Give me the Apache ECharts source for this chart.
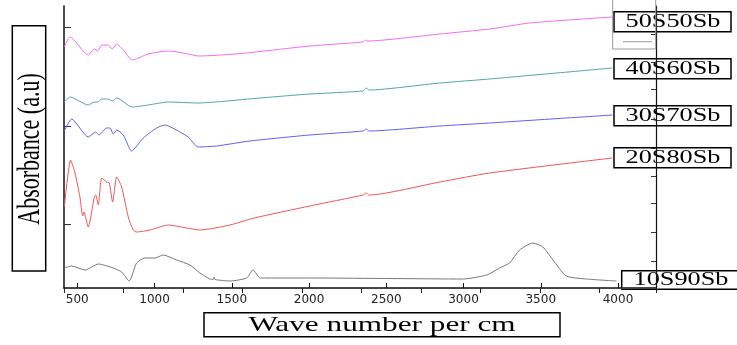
<!DOCTYPE html>
<html>
<head>
<meta charset="utf-8">
<script src="https://cdn.jsdelivr.net/npm/echarts@6/dist/echarts.min.js"></script>
<style>
  html, body { margin: 0; padding: 0; background: #fff; }
  #main { width: 737px; height: 345px; }
</style>
</head>
<body>
<div id="main"></div>
<script>
// wave numbers (cm-1) and absorbance (a.u., offset traces)
const wn50 = [416, 453, 571, 610, 632, 658, 700, 726, 755, 798, 856, 959, 1089, 1218, 1283, 1434, 1596, 2005, 2350, 2365, 2380, 2847, 3169, 3428, 3963];
const ab50 = [2.41, 2.51, 2.33, 2.39, 2.37, 2.43, 2.43, 2.39, 2.44, 2.38, 2.28, 2.34, 2.37, 2.34, 2.32, 2.33, 2.35, 2.42, 2.46, 2.48, 2.47, 2.54, 2.59, 2.65, 2.71];

const wn40 = [416, 453, 571, 610, 632, 658, 700, 726, 755, 856, 959, 1089, 1283, 1434, 1645, 2005, 2350, 2370, 2390, 2847, 3169, 3963];
const ab40 = [1.86, 1.91, 1.83, 1.86, 1.86, 1.89, 1.89, 1.87, 1.90, 1.81, 1.83, 1.86, 1.85, 1.865, 1.895, 1.94, 1.97, 2.00, 1.98, 2.05, 2.09, 2.20];

const wn30 = [416, 464, 571, 619, 640, 690, 712, 733, 755, 798, 852, 927, 1014, 1067, 1164, 1218, 1283, 1402, 1617, 2005, 2350, 2370, 2390, 2847, 3169, 3963];
const ab30 = [1.57, 1.69, 1.51, 1.56, 1.53, 1.60, 1.60, 1.54, 1.58, 1.53, 1.37, 1.50, 1.60, 1.63, 1.56, 1.51, 1.41, 1.42, 1.47, 1.53, 1.57, 1.59, 1.57, 1.62, 1.65, 1.73];

const wn20 = [416, 457, 485, 517, 535, 543, 571, 610, 619, 636, 658, 690, 707, 729, 755, 787, 830, 862, 884, 970, 1089, 1208, 1294, 1488, 1645, 2005, 2350, 2370, 2390, 2847, 3169, 3963];
const ab20 = [0.81, 1.28, 1.15, 0.91, 0.72, 0.76, 0.61, 0.91, 0.93, 0.83, 1.10, 1.06, 1.05, 0.86, 1.11, 1.01, 0.71, 0.58, 0.56, 0.58, 0.63, 0.60, 0.58, 0.63, 0.70, 0.82, 0.93, 0.95, 0.93, 1.06, 1.15, 1.30];

const wn10 = [416, 464, 550, 636, 733, 787, 836, 884, 938, 1003, 1056, 1143, 1229, 1294, 1358, 1380, 1385, 1392, 1488, 1596, 1638, 1685, 2005, 2995, 3150, 3234, 3298, 3363, 3449, 3514, 3579, 3665, 3795, 3989];
const ab10 = [0.20, 0.22, 0.18, 0.24, 0.20, 0.16, 0.07, 0.25, 0.30, 0.30, 0.33, 0.28, 0.23, 0.15, 0.09, 0.085, 0.11, 0.085, 0.07, 0.10, 0.18, 0.10, 0.10, 0.09, 0.13, 0.20, 0.25, 0.38, 0.45, 0.41, 0.28, 0.12, 0.09, 0.07];

const seriesNames = ["50S50Sb", "40S60Sb", "30S70Sb", "20S80Sb", "10S90Sb"];
const xTicks = [500, 1000, 1500, 2000, 2500, 3000, 3500, 4000];
const leftTicks = [0.64, 1.62, 2.61];
const rightTicks = [0.27, 0.56, 0.85, 1.12, 1.40, 1.69, 1.99, 2.26, 2.54];

const colors = ["#f06ef0", "#52a89f", "#5f5ff2", "#f25656", "#777777"];
const traces = [[wn50, ab50], [wn40, ab40], [wn30, ab30], [wn20, ab20], [wn10, ab10]];

const myChart = echarts.init(document.getElementById("main"));

const serif = "Liberation Serif, Times New Roman, serif";

// boxed labels (the figure is stretched sideways, so the text is too)
function box(x, y, w, h, text, tx, ty, size, sx, rot) {
  return {
    type: "group",
    z: 100,
    children: [
      {
        type: "rect",
        shape: { x: x, y: y, width: w, height: h },
        style: { fill: "#fff", stroke: "#000", lineWidth: 1.5 },
      },
      {
        type: "text",
        x: tx,
        y: ty,
        rotation: rot || 0,
        scaleX: rot ? 1 : sx,
        scaleY: rot ? sx : 1,
        style: {
          text: text,
          x: 0,
          y: 0,
          align: "center",
          verticalAlign: "middle",
          fontFamily: serif,
          fontSize: size,
          fill: "#000",
        },
      },
    ],
  };
}

myChart.setOption({
  animation: false,
  backgroundColor: "#fff",
  grid: { left: 64, top: 6, right: 81, bottom: 57 },
  xAxis: [
    {
      type: "value",
      min: 414,
      max: 4246,
      axisLine: { show: true, lineStyle: { color: "#111", width: 1.5 } },
      axisTick: { inside: true, length: 5, customValues: xTicks, lineStyle: { color: "#111" } },
      axisLabel: {
        customValues: xTicks,
        margin: 6,
        fontFamily: "DejaVu Sans",
        fontSize: 12,
        color: "#222",
        formatter: (v) => String(v),
      },
      splitLine: { show: false },
    },
    {
      type: "value",
      position: "top",
      min: 0,
      max: 9.95,
      interval: 1,
      axisLine: { show: true, lineStyle: { color: "#444", width: 1 } },
      axisTick: { inside: true, length: 5, lineStyle: { color: "#222" } },
      axisLabel: { show: false },
      splitLine: { show: false },
    },
  ],
  yAxis: [
    {
      type: "value",
      min: 0,
      max: 2.82,
      axisLine: { show: true, lineStyle: { color: "#111", width: 1.5 } },
      axisTick: { show: true, inside: true, length: 7, customValues: leftTicks, lineStyle: { color: "#333" } },
      axisLabel: { show: false },
      splitLine: { show: false },
    },
    {
      type: "value",
      position: "right",
      min: 0,
      max: 2.82,
      axisLine: { show: true, lineStyle: { color: "#111", width: 1.2 } },
      axisTick: { show: true, inside: true, length: 5, customValues: rightTicks, lineStyle: { color: "#333" } },
      axisLabel: { show: false },
      splitLine: { show: false },
    },
  ],
  series: traces.map((t, i) => ({
    name: seriesNames[i],
    type: "line",
    xAxisIndex: 0,
    yAxisIndex: 0,
    data: t[0].map((w, j) => [w, t[1][j]]),
    showSymbol: false,
    smooth: 0.2,
    lineStyle: { color: colors[i], width: 1 },
    itemStyle: { color: colors[i] },
  })),
  graphic: [
    // leftover legend frame in the top-right corner
    {
      type: "rect",
      z: 90,
      shape: { x: 612.7, y: -2, width: 43, height: 51 },
      style: { fill: "none", stroke: "#9a9a9a", lineWidth: 1 },
    },
    {
      type: "line",
      z: 90,
      shape: { x1: 623, y1: 41.7, x2: 652, y2: 41.7 },
      style: { stroke: "#999", lineWidth: 1 },
    },
    box(614, 11.7, 117, 20, seriesNames[0], 673, 22, 18, 1.46),
    box(614, 58.7, 117, 20, seriesNames[1], 673, 69, 18, 1.46),
    box(614, 105.7, 117, 20, seriesNames[2], 673, 116, 18, 1.46),
    box(614, 147.7, 117, 20, seriesNames[3], 673, 158, 18, 1.46),
    box(621.7, 270.7, 130, 18.5, seriesNames[4], 681, 280.5, 18, 1.46),
    box(204, 312.7, 356, 24, "Wave number per cm", 382, 325, 22, 1.42),
    box(12.3, 25.7, 33.4, 245.3, "Absorbance (a.u)", 31, 149, 22, 1.42, Math.PI / 2),
  ],
});
</script>
</body>
</html>
